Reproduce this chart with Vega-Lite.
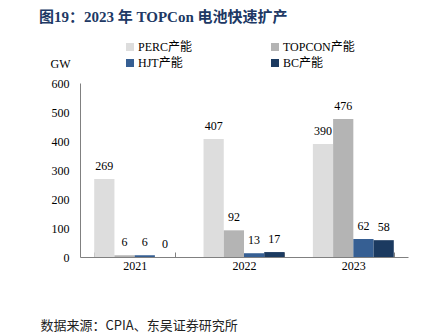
{
  "$schema": "https://vega.github.io/schema/vega-lite/v6.json",
  "width": 328,
  "height": 174,
  "autosize": {"type": "none"},
  "padding": {"left": 80, "top": 83, "right": 30, "bottom": 77},
  "background": "white",
  "config": {
    "view": {"stroke": null},
    "font": "Liberation Serif"
  },
  "title": {
    "text": "图19：2023 年 TOPCon 电池快速扩产",
    "anchor": "start",
    "frame": "group",
    "dx": -41,
    "offset": 16,
    "fontSize": 15,
    "fontWeight": "bold",
    "color": "#203864",
    "font": "'Liberation Serif', 'Times New Roman', 'Noto Sans CJK SC', serif"
  },
  "data": {
    "values": [
      {"year": "2021", "type": "PERC产能", "value": 269},
      {"year": "2021", "type": "TOPCON产能", "value": 6},
      {"year": "2021", "type": "HJT产能", "value": 6},
      {"year": "2021", "type": "BC产能", "value": 0},
      {"year": "2022", "type": "PERC产能", "value": 407},
      {"year": "2022", "type": "TOPCON产能", "value": 92},
      {"year": "2022", "type": "HJT产能", "value": 13},
      {"year": "2022", "type": "BC产能", "value": 17},
      {"year": "2023", "type": "PERC产能", "value": 390},
      {"year": "2023", "type": "TOPCON产能", "value": 476},
      {"year": "2023", "type": "HJT产能", "value": 62},
      {"year": "2023", "type": "BC产能", "value": 58}
    ]
  },
  "encoding": {
    "x": {
      "field": "year",
      "type": "nominal",
      "scale": {"paddingInner": 0.26, "paddingOuter": 0.13},
      "axis": {
        "title": "数据来源：CPIA、东吴证券研究所",
        "titleX": -40,
        "titleY": 68,
        "titleAlign": "left",
        "titleAnchor": null,
        "titleBaseline": "middle",
        "titleFont": "Noto Sans CJK SC",
        "titleFontWeight": "normal",
        "titleFontSize": 13,
        "titleColor": "#222222",
        "labelAngle": 0,
        "labelFont": "'Liberation Serif', 'Times New Roman', serif",
        "labelFontSize": 12,
        "labelColor": "#000000",
        "labelPadding": 8,
        "domainColor": "#808080",
        "tickBand": "extent",
        "tickSize": -5,
        "tickColor": "#808080"
      }
    },
    "xOffset": {
      "field": "type",
      "type": "nominal",
      "sort": ["PERC产能", "TOPCON产能", "HJT产能", "BC产能"],
      "scale": {"paddingInner": 0, "paddingOuter": 0}
    },
    "y": {
      "field": "value",
      "type": "quantitative",
      "scale": {"domain": [0, 600]},
      "axis": {
        "title": "GW",
        "titleFont": "'Liberation Serif', 'Times New Roman', serif",
        "titleAngle": 0,
        "titleX": -20,
        "titleY": -20,
        "titleAlign": "center",
        "titleBaseline": "middle",
        "titleFontWeight": "normal",
        "titleFontSize": 12,
        "titleColor": "#000000",
        "grid": false,
        "values": [0, 100, 200, 300, 400, 500, 600],
        "ticks": false,
        "labelPadding": 11,
        "labelFont": "'Liberation Serif', 'Times New Roman', serif",
        "labelFontSize": 12,
        "labelColor": "#000000",
        "domainColor": "#808080"
      }
    }
  },
  "layer": [
    {
      "mark": {"type": "bar"},
      "encoding": {
        "color": {
          "field": "type",
          "type": "nominal",
          "sort": ["PERC产能", "TOPCON产能", "HJT产能", "BC产能"],
          "scale": {
            "domain": ["PERC产能", "TOPCON产能", "HJT产能", "BC产能"],
            "range": ["#dddddd", "#b4b4b4", "#365f93", "#1b3a60"]
          },
          "legend": {
            "orient": "none",
            "direction": "horizontal",
            "legendX": 44,
            "legendY": -42,
            "columns": 2,
            "columnPadding": 76,
            "rowPadding": 4,
            "symbolType": "square",
            "symbolSize": 64,
            "symbolStrokeWidth": 0,
            "title": null,
            "labelFont": "'Liberation Serif', 'Times New Roman', 'Noto Sans CJK SC', serif",
            "labelFontSize": 12,
            "labelColor": "#000000",
            "labelOffset": 2
          }
        }
      }
    },
    {
      "mark": {"type": "text", "baseline": "bottom", "dy": -6, "fontSize": 12, "color": "#000000", "font": "'Liberation Serif', 'Times New Roman', serif"},
      "encoding": {"text": {"field": "value", "type": "quantitative"}}
    }
  ]
}
